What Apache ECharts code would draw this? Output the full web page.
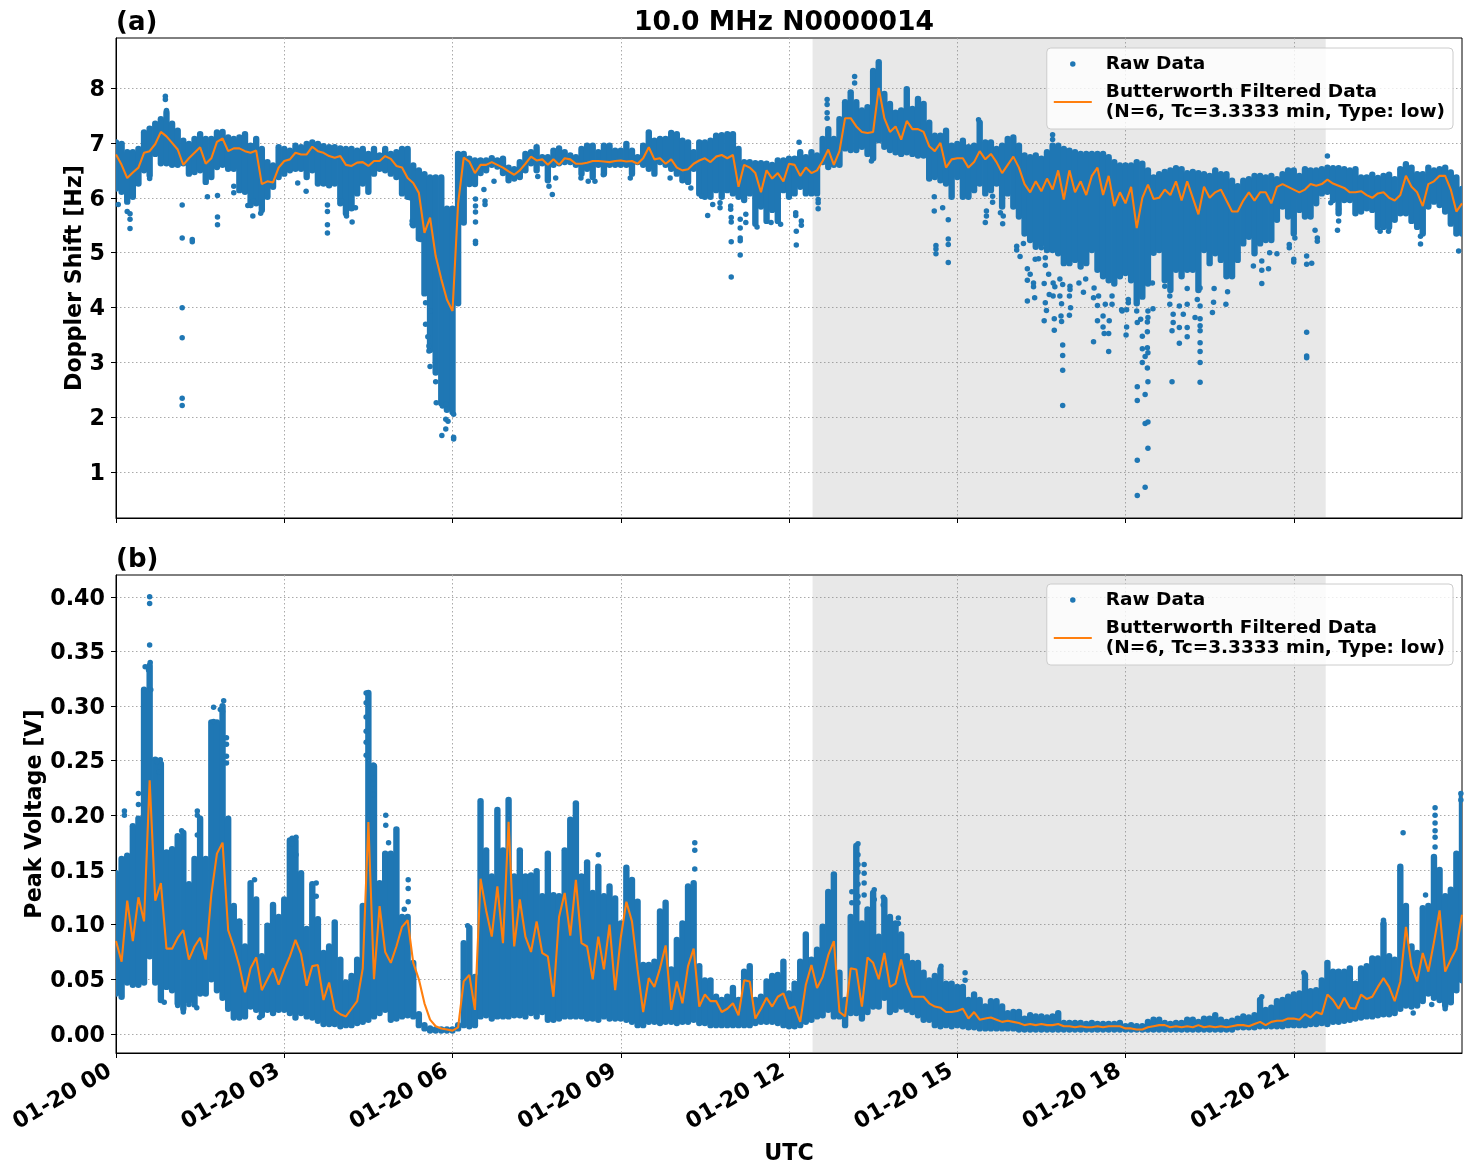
<!DOCTYPE html>
<html>
<head>
<meta charset="utf-8">
<title>10.0 MHz N0000014</title>
<script src="https://cdn.jsdelivr.net/npm/echarts@6/dist/echarts.min.js"></script>
<style>html,body{margin:0;padding:0;background:#fff}#chart{width:1471px;height:1172px}</style>
</head>
<body>
<div id="chart"></div>
<script>
// Sample spacing of the envelope and filtered series, in hours after 01-20 00 UTC.
const sampleStepHours = 0.1;
const sunlitStart = 12.42;
const sunlitEnd = 21.57;
const hourTicks = [0, 3, 6, 9, 12, 15, 18, 21];
const hourLabels = ['01-20 00', '01-20 03', '01-20 06', '01-20 09', '01-20 12', '01-20 15', '01-20 18', '01-20 21'];
const dopplerTicks = [1, 2, 3, 4, 5, 6, 7, 8];
const voltageTicks = [0, 0.05, 0.1, 0.15, 0.2, 0.25, 0.3, 0.35, 0.4];

// Doppler shift [Hz]: upper and lower edge of the dense raw data, one row per hour.
const dopplerHigh = [
 7.01,6.98,6.83,6.83,6.89,7.19,7.26,7.35,7.43,7.55,
 7.35,7.22,7.04,6.98,7.07,7.16,7.07,7.07,7.19,7.2,
 7.1,7.07,7.1,7.16,6.95,7.07,6.89,6.65,6.59,6.92,
 6.89,6.86,6.95,6.92,6.98,7.01,6.98,6.94,6.92,6.92,
 6.9,6.89,6.89,6.86,6.89,6.8,6.89,6.77,6.89,6.8,
 6.83,6.89,6.89,6.59,6.5,6.43,6.37,6.37,6.37,5.8,
 5.8,6.8,6.8,6.71,6.68,6.68,6.68,6.72,6.68,6.71,
 6.55,6.52,6.65,6.8,6.83,6.92,6.74,6.74,6.86,6.9,
 6.83,6.77,6.74,6.89,6.95,6.95,6.83,6.95,6.95,6.86,
 6.86,6.98,6.86,6.74,6.95,7.19,7.04,7.07,7.07,7.18,
 7.16,7.04,7.01,6.83,7.01,7.01,7.04,7.13,7.14,7.16,
 7.16,6.89,6.65,6.65,6.63,6.63,6.62,6.6,6.68,6.68,
 6.71,6.71,6.83,6.74,6.83,6.77,7.07,7.25,7.07,7.43,
 7.74,7.92,7.74,7.59,7.65,8.31,8.47,7.89,7.71,7.55,
 7.59,7.98,7.62,7.8,7.71,7.37,7.13,7.13,7.22,6.95,
 6.98,7.04,6.92,6.95,7.37,7.01,7.01,6.89,6.95,7.07,
 7.1,6.95,6.77,6.74,6.77,6.71,6.83,6.95,6.95,6.89,
 6.86,6.83,6.8,6.8,6.8,6.8,6.8,6.74,6.65,6.59,
 6.59,6.59,6.65,6.62,6.5,6.37,6.43,6.47,6.5,6.54,
 6.52,6.45,6.47,6.45,6.43,6.4,6.5,6.43,6.43,6.31,
 6.21,6.31,6.34,6.4,6.4,6.37,6.4,6.34,6.43,6.5,
 6.5,6.4,6.52,6.5,6.5,6.52,6.55,6.54,6.54,6.52,
 6.5,6.52,6.37,6.37,6.42,6.36,6.4,6.42,6.34,6.52,
 6.61,6.55,6.43,6.43,6.55,6.5,6.52,6.55,6.46,6.37,6.16
];
const dopplerLow = [
 6.17,6.11,5.93,6.02,6.26,6.5,6.41,6.8,6.63,6.63,
 6.6,6.6,6.63,6.44,6.47,6.5,6.29,6.38,6.56,6.6,
 6.53,6.53,6.14,6.11,5.87,5.9,5.78,6.02,6.2,6.38,
 6.44,6.5,6.53,6.53,6.38,6.5,6.26,6.26,6.23,6.26,
 5.9,5.72,5.81,6.08,6.26,6.11,6.44,6.53,6.5,6.44,
 6.38,6.08,6.02,5.5,5.26,4.26,3.23,2.82,2.26,2.14,
 2.1,4.08,5.55,6.25,6.25,6.45,6.5,6.6,6.57,6.45,
 6.32,6.35,6.38,6.5,6.63,6.5,6.63,6.32,6.6,6.63,
 6.65,6.65,6.6,6.44,6.53,6.38,6.6,6.44,6.6,6.6,
 6.6,6.6,6.44,6.65,6.6,6.53,6.44,6.65,6.6,6.53,
 6.44,6.32,6.29,6.53,6.08,6.02,6.02,6.14,6.02,6.14,
 6.08,6.02,5.96,6.08,5.53,5.84,5.58,5.78,5.58,6.14,
 6.02,6.08,6.2,6.08,6.08,6.08,6.65,6.56,6.6,6.6,
 6.9,6.87,6.87,6.93,6.8,6.72,7.05,6.93,6.87,6.83,
 6.8,6.83,6.8,6.77,6.77,6.35,6.38,6.32,6.26,6.02,
 6.38,6.02,6.02,6.14,6.26,6.08,6.14,6.26,5.84,6.08,
 5.84,5.66,5.35,5.23,5.11,5.17,5.05,5.05,4.99,4.81,
 4.81,4.87,4.75,4.81,5.05,4.69,4.57,4.5,4.44,4.57,
 4.63,4.5,4.08,4.2,4.44,5.0,5.05,4.5,4.32,4.69,
 4.57,4.69,4.69,4.32,5.05,4.81,4.99,4.87,4.57,4.57,
 4.87,5.17,5.29,4.99,5.17,5.23,5.23,5.6,5.84,5.66,
 5.35,5.78,5.66,5.66,5.9,6.08,6.11,5.96,5.72,5.96,
 5.96,5.72,5.75,5.81,5.78,5.47,5.47,5.47,5.6,5.72,
 5.72,5.58,5.47,5.35,5.84,5.93,5.87,5.75,5.53,5.35,5.35
];
// Butterworth low-pass output for the Doppler shift.
const dopplerFiltered = [
 6.79,6.6,6.36,6.46,6.55,6.82,6.85,6.98,7.2,7.12,
 7.0,6.88,6.6,6.72,6.82,6.92,6.62,6.72,7.02,7.08,
 6.85,6.9,6.9,6.85,6.82,6.86,6.25,6.3,6.28,6.55,
 6.67,6.7,6.82,6.79,6.79,6.93,6.85,6.82,6.76,6.73,
 6.76,6.6,6.58,6.64,6.65,6.58,6.67,6.67,6.76,6.71,
 6.58,6.55,6.36,6.27,6.09,5.36,5.64,4.94,4.52,4.15,
 3.94,5.9,6.73,6.66,6.45,6.6,6.6,6.65,6.6,6.55,
 6.48,6.42,6.5,6.62,6.75,6.68,6.7,6.6,6.7,6.6,
 6.72,6.7,6.62,6.62,6.64,6.67,6.67,6.66,6.65,6.67,
 6.68,6.66,6.67,6.62,6.72,6.92,6.7,6.72,6.62,6.7,
 6.55,6.5,6.52,6.62,6.68,6.72,6.65,6.75,6.78,6.72,
 6.78,6.2,6.6,6.55,6.45,6.1,6.5,6.35,6.45,6.3,
 6.62,6.6,6.4,6.55,6.45,6.5,6.67,6.88,6.6,6.85,
 7.45,7.45,7.3,7.2,7.18,7.2,8.0,7.45,7.2,7.3,
 7.06,7.4,7.25,7.25,7.2,6.94,6.85,7.0,6.55,6.7,
 6.72,6.72,6.55,6.65,6.85,6.7,6.8,6.65,6.45,6.6,
 6.75,6.55,6.25,6.1,6.3,6.12,6.35,6.15,6.5,5.97,
 6.5,6.1,6.3,6.05,6.4,6.55,6.05,6.4,5.85,6.1,
 5.9,6.2,5.45,6.0,6.24,5.98,6.0,6.15,6.05,6.3,
 5.95,6.3,6.0,5.7,6.2,6.0,6.1,6.15,5.95,5.75,
 5.75,5.95,6.1,5.95,6.1,6.1,5.9,6.2,6.25,6.2,
 6.15,6.1,6.15,6.25,6.22,6.25,6.33,6.26,6.22,6.18,
 6.1,6.1,6.12,6.05,6.0,6.08,6.1,6.0,5.95,6.05,
 6.4,6.2,6.1,5.85,6.25,6.3,6.4,6.4,6.15,5.75,5.9
];
// Isolated Doppler readings outside the dense band: [hour, Hz].
const dopplerStrays = [
 [.88,7.85],[.88,7.79],[.9,7.59],[.04,5.88],[.2,5.75],[.25,5.71],[.25,5.61],[.25,5.44],[1.18,5.87],[1.18,5.27],[1.18,4],[1.18,3.45],[1.18,2.35],[1.18,2.22],[1.36,5.24],[1.36,5.2],[.6,6.35],
 [1.63,6.02],[1.81,6.04],[1.81,5.65],[1.81,5.51],[2.1,6.21],[2.1,6.09],[2.35,5.86],[2.44,5.67],[2.45,5.94],[2.58,5.72],[3.24,6.27],[3.39,6.12],[3.77,5.87],[3.77,5.75],[3.77,5.51],[3.77,5.36],[4.02,5.94],[4.11,5.67],[4.21,5.56],[4.27,5.82],
 [5.28,5.58],[5.28,5.52],[5.24,6],[5.43,5.24],[5.52,4.09],[5.52,3.7],[5.56,3.47],[5.58,3.3],[5.58,3.21],[5.6,2.93],[5.6,3.94],[5.7,2.65],[5.7,3.03],[5.71,2.27],[5.82,2.21],[5.88,2.24],[6.02,2.06],[5.88,1.97],[5.92,1.93],[5.88,1.79],[5.81,1.67],[6.02,1.61],[6.02,1.64],
 [6.41,5.98],[6.41,5.85],[6.41,5.74],[6.41,5.56],[6.41,5.21],[6.41,5.17],[6.56,6.15],[6.58,5.94],[6.58,5.88],[6.74,6.3],[7.52,6.39],[7.72,6.21],[7.78,6.06],[7.84,6.36],[8.29,6.36],[8.42,6.3],[8.54,6.3],[8.69,6.42],[9.17,6.36],[9.88,6.36],[10.25,6.18],[10.44,6.03],[10.55,5.68],[10.64,5.88],[10.77,5.91],[10.77,5.82],[10.96,5.85],[10.96,5.79],[10.97,5.64],[10.97,5.56],[10.97,5.2],[10.97,4.56],[11.13,5.61],[11.13,5.45],[11.13,5.27],[11.13,5.22],[11.13,4.96],[11.23,5.7],[11.23,5.55],[11.43,5.47],[11.68,5.55],[11.85,5.52],
 [12.12,5.73],[12.12,5.68],[12.13,5.39],[12.13,5.14],[12.22,5.58],[12.22,5.5],[12.52,5.97],[12.52,5.91],[12.52,5.8],[12.68,7.79],[12.68,7.7],[12.68,7.55],[12.68,7.45],[13.17,8.21],[13.17,8.09],[12.18,7.01],[13.47,6.67],[15.38,7.42],
 [14.59,6.02],[14.59,5.76],[14.74,5.82],[14.84,5.6],[14.84,5.25],[14.84,5.15],[14.84,4.82],[14.62,5.13],[14.62,5.07],[14.62,4.98],[15.5,5.55],[15.52,5.76],[15.52,5.67],[15.63,6.03],[15.63,5.92],[15.77,5.73],[15.81,5.53],[15.82,5.67],[16.7,7.15],[16.7,7.06],
 [16.06,5.12],[16.06,5.05],[16.12,4.93],[16.18,5.17],[16.25,4.71],[16.3,4.61],[16.25,4.5],[16.36,4.45],[16.36,4.38],[16.25,4.12],[16.38,4.18],[16.39,4.88],[16.45,4.89],[16.5,5.09],[16.57,4.91],[16.57,4.77],[16.63,4.61],[16.55,4.44],[16.57,4.09],[16.59,3.95],[16.55,3.76],[16.64,4.24],[16.71,4.21],[16.73,3.8],[16.73,3.59],[16.71,4.45],[16.74,4.38],[16.83,4.52],[16.88,4.42],[16.83,4.21],[16.86,4.07],[16.85,3.85],[16.86,3.75],[16.88,3.32],[16.88,3.13],[16.88,2.86],[16.88,2.22],[17.01,4.39],[17.01,4.33],[17,4.21],[17.02,4],[17,3.86],[17.25,4.28],[17.17,4.45],[17.29,4.52],[17.43,3.38],[17.5,3.76],[17.5,4.04],[17.43,4.18],[17.44,4.36],[17.52,4.21],[17.6,3.85],[17.6,3.65],[17.62,3.53],[17.7,3.53],[17.7,3.2],[17.71,3.76],[17.64,4.06],[17.76,4.06],[17.76,4.21],[17.94,3.94],[18.02,3.65],[18.01,3.5],[18.05,4.15],
 [17.93,3.96],[18.02,3.96],[18.05,4.09],[18.2,3.94],[18.21,3.73],[18.27,3.79],[18.4,3.94],[18.49,3.98],[18.4,3.82],[18.39,3.74],[18.3,3.48],[18.39,3.56],[18.3,3.25],[18.39,3.27],[18.4,3.18],[18.35,3.11],[18.3,3],[18.39,2.9],[18.4,2.65],[18.21,2.56],[18.21,2.31],[18.35,2.42],[18.35,1.89],[18.4,1.92],[18.4,1.44],[18.21,1.22],[18.35,.73],[18.21,.58],
 [18.48,4.45],[18.7,4.39],[18.79,4.21],[18.79,4.06],[18.85,3.88],[18.85,3.73],[18.83,3.58],[18.96,3.64],[18.96,3.35],[18.83,2.65],[18.96,4.03],[19.03,3.88],[19.1,4.35],[19.1,4.06],[19.1,3.64],[19.1,3.47],[19.24,3.82],[19.28,4.15],[19.33,4.36],[19.33,4.03],[19.33,3.8],[19.33,3.67],[19.33,3.58],[19.33,3.36],[19.33,3.2],[19.33,3],[19.33,2.64],[19.58,4.35],[19.57,4.1],[19.55,3.91],[19.82,4.29],[19.79,4.06],
 [20.28,4.76],[20.43,4.85],[20.43,4.68],[20.55,4.71],[20.43,4.44],[20.7,4.98],[20.57,5],[21,4.88],[21,4.83],[21.23,4.94],[21.23,4.79],[21.32,4.81],[21.38,5.41],[21.42,5.27],[21.42,5.21],[21.23,3.55],[21.23,3.12],[21.23,3.09],[20.92,5.15],[20.92,5.09],[21.02,5.27],[21.6,6.76],[21.78,5.41],[21.8,5.58],[21.8,5.79],[21.66,5.91],[23.26,5.16],[23.94,5.03],[23.26,5.3],[22.54,5.39],[22.69,5.39]
];

// Peak voltage [V]: upper and lower edge of the dense raw data, one row per hour.
const voltageHigh = [
 .147,.16,.163,.19,.197,.315,.337,.251,.247,.166,
 .169,.181,.184,.137,.16,.197,.16,.285,.285,.3,
 .197,.117,.103,.08,.138,.123,.071,.099,.118,.107,
 .123,.177,.177,.147,.096,.137,.105,.074,.08,.102,
 .068,.047,.053,.068,.117,.312,.245,.138,.165,.165,
 .187,.107,.107,.065,.018,.008,.005,.004,.004,.004,
 .004,.008,.083,.097,.052,.213,.168,.144,.205,.168,
 .214,.144,.168,.144,.145,.149,.126,.165,.127,.126,
 .168,.196,.211,.144,.157,.129,.153,.126,.135,.124,
 .101,.152,.141,.121,.063,.063,.066,.112,.12,.059,
 .086,.101,.135,.138,.062,.049,.049,.034,.031,.034,
 .042,.031,.057,.062,.031,.034,.048,.053,.054,.066,
 .037,.046,.066,.091,.068,.077,.098,.13,.146,.056,
 .031,.107,.172,.101,.114,.129,.089,.123,.107,.101,
 .091,.071,.065,.065,.056,.049,.053,.059,.046,.046,
 .043,.043,.031,.036,.031,.025,.03,.03,.025,.019,
 .02,.02,.014,.017,.016,.016,.015,.016,.019,.01,
 .01,.01,.01,.009,.01,.009,.009,.009,.009,.01,
 .007,.008,.007,.007,.011,.013,.013,.01,.009,.01,
 .01,.013,.013,.011,.014,.014,.017,.013,.011,.012,
 .014,.016,.015,.017,.031,.022,.024,.03,.031,.034,
 .036,.037,.054,.039,.04,.049,.065,.057,.057,.057,
 .06,.046,.06,.062,.069,.069,.101,.071,.068,.153,
 .117,.08,.074,.115,.117,.162,.15,.126,.132,.165,.219
];
const voltageLow = [
 .037,.034,.047,.045,.045,.047,.071,.047,.031,.043,
 .04,.028,.023,.03,.027,.037,.037,.05,.04,.033,
 .023,.015,.015,.016,.025,.022,.017,.022,.019,.022,
 .022,.019,.015,.019,.016,.015,.012,.009,.009,.009,
 .007,.008,.008,.01,.011,.013,.016,.019,.022,.013,
 .014,.016,.017,.016,.008,.005,.003,.003,.003,.003,
 .003,.005,.008,.007,.008,.016,.017,.014,.016,.016,
 .016,.017,.017,.016,.019,.016,.02,.013,.013,.014,
 .016,.016,.016,.016,.014,.014,.013,.016,.014,.014,
 .014,.013,.011,.008,.008,.011,.011,.01,.011,.011,
 .01,.011,.011,.013,.01,.01,.008,.008,.008,.008,
 .008,.008,.008,.008,.01,.011,.011,.011,.01,.008,
 .007,.007,.008,.011,.013,.016,.017,.022,.016,.016,
 .008,.019,.019,.014,.02,.025,.025,.033,.02,.022,
 .025,.022,.02,.017,.013,.013,.008,.007,.008,.007,
 .008,.007,.006,.006,.005,.005,.005,.005,.005,.005,
 .005,.004,.004,.004,.004,.004,.004,.004,.004,.004,
 .004,.004,.004,.004,.004,.004,.004,.004,.004,.004,
 .004,.004,.004,.004,.004,.004,.004,.004,.004,.004,
 .004,.004,.004,.004,.004,.004,.004,.004,.004,.004,
 .006,.006,.006,.006,.007,.007,.007,.007,.007,.008,
 .008,.008,.008,.009,.009,.01,.009,.011,.011,.012,
 .013,.014,.015,.016,.016,.017,.018,.018,.019,.023,
 .026,.025,.026,.03,.037,.033,.031,.026,.029,.04,.049
];
// Butterworth low-pass output for the peak voltage.
const voltageFiltered = [
 .085,.066,.122,.085,.125,.103,.232,.122,.138,.078,
 .078,.088,.095,.068,.08,.088,.068,.128,.165,.175,
 .095,.08,.062,.038,.06,.07,.04,.05,.06,.045,
 .059,.071,.086,.073,.044,.062,.063,.031,.047,.022,
 .018,.016,.023,.03,.06,.194,.05,.117,.075,.065,
 .08,.098,.104,.065,.05,.028,.013,.007,.005,.004,
 .003,.006,.048,.054,.022,.142,.113,.089,.135,.083,
 .194,.08,.123,.089,.075,.103,.074,.071,.034,.107,
 .129,.09,.141,.083,.08,.05,.089,.059,.1,.04,
 .088,.121,.103,.059,.02,.051,.043,.06,.081,.022,
 .048,.028,.062,.078,.025,.036,.03,.03,.02,.023,
 .028,.017,.049,.048,.014,.023,.033,.025,.034,.037,
 .023,.025,.011,.045,.063,.042,.052,.072,.085,.02,
 .016,.06,.059,.025,.07,.065,.05,.074,.043,.046,
 .068,.046,.034,.034,.034,.028,.025,.024,.02,.02,
 .021,.023,.014,.02,.013,.014,.015,.013,.011,.012,
 .011,.01,.008,.009,.008,.009,.008,.008,.009,.007,
 .007,.006,.007,.006,.006,.007,.006,.007,.007,.007,
 .005,.005,.004,.004,.006,.007,.008,.008,.006,.007,
 .006,.007,.006,.008,.006,.007,.006,.007,.006,.007,
 .008,.008,.007,.009,.011,.008,.011,.012,.012,.014,
 .014,.013,.018,.015,.02,.018,.036,.031,.023,.033,
 .024,.023,.036,.032,.034,.043,.051,.043,.03,.048,
 .098,.062,.048,.074,.057,.084,.113,.057,.068,.078,.109
];
// Isolated voltage readings above or below the dense band: [hour, V].
const voltageStrays = [
 [.6,.4],[.6,.394],[.6,.356],[.61,.34],[.52,.336],[.58,.333],[.62,.315],[.79,.251],[.73,.249],[.77,.24],[.4,.22],[.4,.21],[.15,.204],[.15,.2],[1.45,.204],[1.45,.2],[1.45,.182],[1.92,.305],[1.74,.299],[1.86,.297],[1.9,.295],[1.74,.286],[1.97,.271],[1.97,.265],[1.97,.254],[1.97,.248],[2.47,.141],[3.14,.179],[3.21,.18],[3.14,.174],[3.21,.164],[3.57,.138],[3.57,.126],[1.17,.186],[1.2,.02],[.86,.029],[1.1,.026],[1.3,.027],[1.44,.024],[2.56,.015],
 [4.46,.312],[4.46,.303],[4.46,.29],[4.46,.277],[4.46,.267],[4.46,.255],[4.59,.246],[4.59,.234],[4.59,.229],[4.59,.219],[4.81,.2],[4.81,.191],[4.86,.175],[5.21,.141],[5.21,.133],[5.21,.121],[5.14,.114],[6.27,.099],
 [10.32,.175],[10.32,.168],[10.32,.151],[8.6,.164],
 [13.23,.174],[13.23,.164],[13.34,.155],[13.23,.155],[13.34,.147],[13.23,.148],[13.34,.138],[13.23,.137],[13.52,.132],[13.52,.123],[13.12,.13],[13.12,.12],[13.23,.126],[13.23,.12],[13.34,.127],[13.68,.125],[13.68,.118],[13.95,.106],[13.95,.101],[14.71,.062],[15.14,.056],[15.14,.049],
 [22.95,.184],[23.52,.207],[23.52,.2],[23.52,.193],[23.52,.186],[23.52,.18],[23.52,.171],[23.35,.127],[22.6,.104],[22.6,.1],[20.43,.034],[21.18,.056],[23.13,.019],[23.46,.027],[23.7,.023],[23.98,.22],[23.98,.214]
];

const RAW_NAME = 'Raw Data';
const FILTER_NAME = 'Butterworth Filtered Data\n(N=6, Tc=3.3333 min, Type: low)';
const BLUE = '#1f77b4';
const ORANGE = '#ff7f0e';
const FONT = '"DejaVu Sans", sans-serif';
const LABEL_SIZE = 22.2;

const atHour = i => +(i * sampleStepHours).toFixed(1);

// One vertical run of raw readings per sample, between the low and high edge.
// Runs shorter than a pixel still keep a visible dot.
function bandColumn(params, api) {
  const top = api.coord([api.value(0), api.value(2)]);
  const bottom = api.coord([api.value(0), api.value(1)]);
  const y2 = Math.max(bottom[1], top[1] + 1);
  return {
    type: 'line',
    shape: { x1: top[0], y1: top[1], x2: bottom[0], y2 },
    style: { stroke: BLUE, lineWidth: 6.4, lineCap: 'round' }
  };
}

function panelSeries(axisIndex, low, high, filtered, strays) {
  return [
    {
      type: 'scatter', name: RAW_NAME, xAxisIndex: axisIndex, yAxisIndex: axisIndex,
      data: strays, symbolSize: 5.5, itemStyle: { color: BLUE, opacity: 1 }, clip: true,
      markArea: {
        silent: true, z: 1,
        itemStyle: { color: 'rgba(128,128,128,0.18)' },
        data: [[{ xAxis: sunlitStart }, { xAxis: sunlitEnd }]]
      }
    },
    {
      type: 'custom', name: RAW_NAME, xAxisIndex: axisIndex, yAxisIndex: axisIndex,
      renderItem: bandColumn, clip: true, silent: true,
      encode: { x: 0, y: [1, 2] },
      data: low.map((v, i) => [atHour(i), v, high[i]])
    },
    {
      type: 'line', name: FILTER_NAME, xAxisIndex: axisIndex, yAxisIndex: axisIndex,
      data: filtered.map((v, i) => [atHour(i), v]),
      showSymbol: false, symbol: 'none', clip: true, z: 5,
      lineStyle: { color: ORANGE, width: 2.1 }, itemStyle: { color: ORANGE }
    }
  ];
}

function timeAxis(gridIndex, showLabels) {
  return {
    type: 'value', gridIndex, min: 0, max: 24,
    axisLine: { show: true, onZero: false, lineStyle: { color: '#000', width: 1 } },
    axisTick: { show: true, customValues: hourTicks, length: 5, lineStyle: { color: '#000', width: 1 } },
    axisLabel: {
      show: showLabels, customValues: hourTicks, rotate: 30, margin: 13, interval: 0,
      padding: [0, 7, 0, 0], color: '#000', fontFamily: FONT, fontWeight: 'bold', fontSize: LABEL_SIZE,
      formatter: v => hourLabels[hourTicks.indexOf(v)] || ''
    },
    splitLine: { show: true, lineStyle: { color: '#aaaaaa', type: [1.5, 2.5], width: 1 } },
    name: showLabels ? 'UTC' : '', nameLocation: 'middle', nameGap: 90, nameMoveOverlap: false,
    nameTextStyle: { color: '#000', fontFamily: FONT, fontWeight: 'bold', fontSize: LABEL_SIZE }
  };
}

function valueAxis(gridIndex, min, max, ticks, name, nameGap, digits) {
  return {
    type: 'value', gridIndex, min, max,
    axisLine: { show: true, onZero: false, lineStyle: { color: '#000', width: 1 } },
    axisTick: { show: true, customValues: ticks, length: 5, lineStyle: { color: '#000', width: 1 } },
    axisLabel: {
      customValues: ticks, margin: 11, color: '#000', fontFamily: FONT,
      fontWeight: 'bold', fontSize: LABEL_SIZE, formatter: v => '{tick|' + v.toFixed(digits) + '}',
      rich: { tick: { color: '#000', fontFamily: FONT, fontWeight: 'bold', fontSize: LABEL_SIZE, padding: [4, 0, 0, 0] } }
    },
    splitLine: { show: true, lineStyle: { color: '#aaaaaa', type: [1.5, 2.5], width: 1 } },
    name, nameLocation: 'middle', nameGap, nameRotate: 90, nameMoveOverlap: false,
    nameTextStyle: { color: '#000', fontFamily: FONT, fontWeight: 'bold', fontSize: LABEL_SIZE }
  };
}

function legendBox(top) {
  return {
    show: true, orient: 'vertical', right: 18, top,
    data: [
      { name: RAW_NAME, icon: 'circle' },
      { name: FILTER_NAME, icon: 'path://M0 0H38V2H0Z' }
    ],
    selectedMode: false, align: 'left', itemWidth: 38, itemHeight: 5.5, itemGap: 8,
    padding: [6, 8, 7, 7], backgroundColor: 'rgba(255,255,255,0.8)',
    borderColor: '#cccccc', borderWidth: 1, borderRadius: 4,
    textStyle: { color: '#000', fontFamily: FONT, fontWeight: 'bold', fontSize: 18.5, lineHeight: 20, padding: [0, 0, 0, 9] }
  };
}

const chart = echarts.init(document.getElementById('chart'), null, { renderer: 'canvas' });
chart.setOption({
  animation: false,
  backgroundColor: '#ffffff',
  title: [
    { text: '10.0 MHz N0000014', left: 784, top: 10, padding: 0, textAlign: 'center',
      textStyle: { color: '#000', fontFamily: FONT, fontWeight: 'bold', fontSize: 26.6 } },
    { text: '(a)', left: 116, top: 10, padding: 0, textStyle: { color: '#000', fontFamily: FONT, fontWeight: 'bold', fontSize: 26 } },
    { text: '(b)', left: 116, top: 547, padding: 0, textStyle: { color: '#000', fontFamily: FONT, fontWeight: 'bold', fontSize: 26 } }
  ],
  grid: [
    { left: 116, top: 38, width: 1346, height: 480, show: true, borderColor: '#000', borderWidth: 1, backgroundColor: 'transparent' },
    { left: 116, top: 575, width: 1346, height: 478, show: true, borderColor: '#000', borderWidth: 1, backgroundColor: 'transparent' }
  ],
  legend: [legendBox(48), legendBox(584)],
  xAxis: [timeAxis(0, false), timeAxis(1, true)],
  yAxis: [
    valueAxis(0, 0.17, 8.91, dopplerTicks, 'Doppler Shift [Hz]', 30, 0),
    valueAxis(1, -0.0175, 0.42, voltageTicks, 'Peak Voltage [V]', 70, 2)
  ],
  series: [
    ...panelSeries(0, dopplerLow, dopplerHigh, dopplerFiltered, dopplerStrays),
    ...panelSeries(1, voltageLow, voltageHigh, voltageFiltered, voltageStrays)
  ]
});
</script>
</body>
</html>
